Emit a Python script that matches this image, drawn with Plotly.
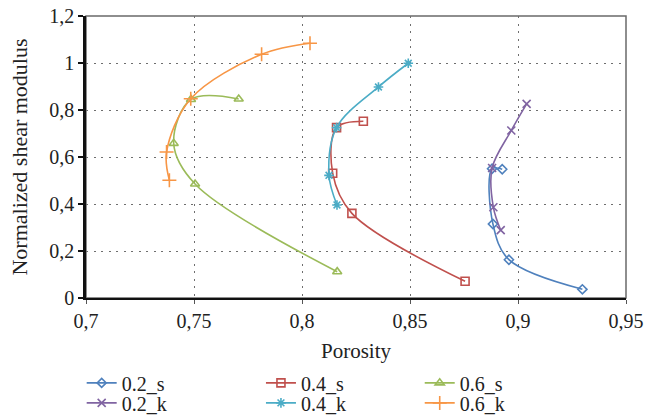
import plotly.graph_objects as go

# ---- data ----
names = ["0.2_s", "0.4_s", "0.6_s", "0.2_k", "0.4_k", "0.6_k"]

por_02_s = [0.8927, 0.8880, 0.8884, 0.8958, 0.9298]
mod_02_s = [0.548, 0.550, 0.315, 0.163, 0.037]

por_02_k = [0.9040, 0.8969, 0.8880, 0.8886, 0.8920]
mod_02_k = [0.826, 0.713, 0.553, 0.386, 0.289]

por_04_s = [0.8284, 0.8160, 0.8142, 0.8231, 0.8755]
mod_04_s = [0.752, 0.725, 0.531, 0.360, 0.071]

por_04_k = [0.8492, 0.8354, 0.8160, 0.8125, 0.8162]
mod_04_k = [0.999, 0.898, 0.725, 0.522, 0.396]

por_06_s = [0.7707, 0.7486, 0.7406, 0.7505, 0.8163]
mod_06_s = [0.847, 0.845, 0.658, 0.485, 0.112]

por_06_k = [0.8037, 0.7813, 0.7485, 0.7373, 0.7386]
mod_06_k = [1.084, 1.037, 0.848, 0.621, 0.501]

x_tickvals = [0.7, 0.75, 0.8, 0.85, 0.9, 0.95]
x_ticktext = ["0,7", "0,75", "0,8", "0,85", "0,9", "0,95"]
y_tickvals = [0, 0.2, 0.4, 0.6, 0.8, 1.0, 1.2]
y_ticktext = ["0", "0,2", "0,4", "0,6", "0,8", "1", "1,2"]

# ---- styles ----
colors = {"0.2_s": "#4F81BD", "0.4_s": "#C0504D", "0.6_s": "#9BBB59",
          "0.2_k": "#8064A2", "0.4_k": "#4BACC6", "0.6_k": "#F79646"}
symbols = {"0.2_s": "diamond-open", "0.4_s": "square-open", "0.6_s": "triangle-up-open",
           "0.2_k": "x-thin-open", "0.4_k": "asterisk-open", "0.6_k": "cross-thin-open"}
msizes = {"0.2_s": 7, "0.4_s": 8, "0.6_s": 8, "0.2_k": 8, "0.4_k": 8, "0.6_k": 10}
series = {"0.2_s": (por_02_s, mod_02_s), "0.4_s": (por_04_s, mod_04_s),
          "0.6_s": (por_06_s, mod_06_s), "0.2_k": (por_02_k, mod_02_k),
          "0.4_k": (por_04_k, mod_04_k), "0.6_k": (por_06_k, mod_06_k)}
legend_ids = {"0.2_s": "legend", "0.4_s": "legend2", "0.6_s": "legend3",
              "0.2_k": "legend4", "0.4_k": "legend5", "0.6_k": "legend6"}

FONT = "Liberation Serif"

fig = go.Figure()
for n in names:
    xs, ys = series[n]
    fig.add_trace(go.Scatter(
        x=xs, y=ys, name=n, mode="lines+markers",
        line=dict(color=colors[n], width=1.6, shape="spline", smoothing=1.0),
        marker=dict(symbol=symbols[n], size=msizes[n], color=colors[n],
                    line=dict(color=colors[n], width=1.6)),
        legend=legend_ids[n],
    ))

# legend placement (paper coords)
col_x = [-0.008, 0.324, 0.618]
row_y = [-0.301, -0.372]
leg_common = dict(font=dict(family=FONT, size=20, color="#222"), bgcolor="rgba(0,0,0,0)",
                  xanchor="left", yanchor="middle", itemwidth=30, tracegroupgap=0)

layout_legends = {}
for i, n in enumerate(names):
    key = legend_ids[n]
    layout_legends[key] = dict(x=col_x[i % 3], y=row_y[i // 3], **leg_common)

fig.update_layout(
    width=655, height=416,
    margin=dict(l=86, r=29, t=16, b=118, autoexpand=False),
    paper_bgcolor="white", plot_bgcolor="white",
    font=dict(family=FONT, size=20, color="#222"),
    showlegend=True,
    **layout_legends,
)

fig.update_xaxes(
    range=[0.7, 0.95], tickvals=x_tickvals, ticktext=x_ticktext,
    showgrid=True, gridcolor="#6e6e6e", gridwidth=1.3, griddash="2px,5.5px",
    showline=True, linecolor="#111", linewidth=2,
    ticks="outside", ticklen=4, tickcolor="#555", tickwidth=1,
    zeroline=False, automargin=False,
    title=dict(text="Porosity", font=dict(family=FONT, size=21), standoff=12),
    tickfont=dict(family=FONT, size=20, color="#222"),
)
fig.update_yaxes(
    range=[0, 1.2], tickvals=y_tickvals, ticktext=y_ticktext,
    showgrid=True, gridcolor="#6e6e6e", gridwidth=1.3, griddash="2px,5.5px",
    showline=True, linecolor="#111", linewidth=2.5,
    ticks="outside", ticklen=5, tickcolor="#111", tickwidth=1.5,
    zeroline=False, automargin=False,
    title=dict(text="Normalized shear modulus", font=dict(family=FONT, size=22), standoff=16),
    tickfont=dict(family=FONT, size=20, color="#222"),
)

# plot-area frame (top and right edges appear gray)
fig.add_shape(type="rect", xref="x domain", yref="y domain", x0=0, x1=1, y0=0, y1=1,
              line=dict(color="#6a6a6a", width=1.5), layer="below")

fig.write_html("out.html",
               config={"displayModeBar": False},
               post_script="document.body.style.margin='0';document.body.style.padding='0';")
